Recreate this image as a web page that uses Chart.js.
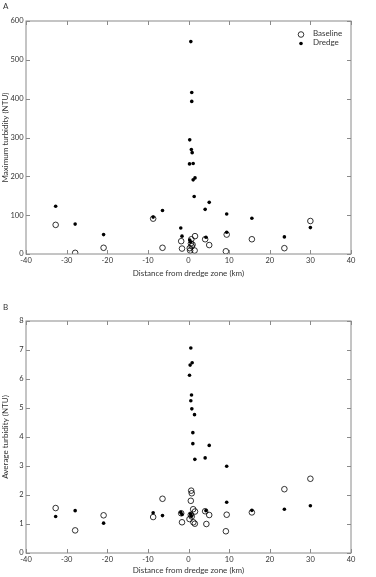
<!DOCTYPE html>
<html>
<head>
<meta charset="utf-8">
<script src="https://cdn.jsdelivr.net/npm/chart.js@4.4.1/dist/chart.umd.min.js"></script>
<style>
  body { margin: 0; background: #fff; }
  #wrap { position: relative; width: 376px; height: 577px; }
  #c1 { position: absolute; left: 0; top: 0; }
  #c2 { position: absolute; left: 0; top: 285px; }
</style>
</head>
<body>
<div id="wrap">
  <div id="c1" style="width:376px;height:285px"><canvas id="chartA"></canvas></div>
  <div id="c2" style="width:376px;height:292px"><canvas id="chartB"></canvas></div>
</div>
<script>
// panel A - maximum turbidity
var maxBaseX = [-32.7, -27.9, -20.9, -8.7, -6.4, -1.8, -1.6, 0.7, 1.6, 0.6, 0.8, 0.4, 1.5, 0.3, 1.0, 4.1, 5.1, 9.4, 9.2, 15.6, 23.6, 30];
var maxBaseY = [75, 3, 16, 91, 16, 33, 14, 38, 46, 27, 20, 9, 9, 15, 24, 38, 23, 50, 7, 38, 15, 85];
var maxDredgeX = [-32.7, -27.9, -20.9, -8.7, -6.4, -1.9, -1.6, 0.3, 0.5, 0.57, 0.8, 0.8, 0.3, 0.7, 0.9, 0.25, 1.15, 1.15, 1.6, 1.4, 4.1, 5.1, 4.3, 9.4, 9.4, 15.6, 23.6, 30];
var maxDredgeY = [123, 77, 50, 95, 112, 67, 46, 36, 31, 547, 416, 393, 294, 269, 261, 232, 233, 191, 196, 148, 115, 133, 43, 103, 56, 92, 44, 68];

// panel B - average turbidity
var avgBaseX = [-32.7, -27.9, -20.9, -8.7, -6.4, -1.8, -1.6, 0.66, 0.8, 0.57, 1.15, 1.6, 0.57, 0.25, 0.8, 1.2, 1.56, 4.1, 4.4, 5.1, 9.4, 9.2, 15.6, 23.6, 30];
var avgBaseY = [1.55, 0.78, 1.30, 1.24, 1.87, 1.37, 1.06, 2.15, 2.06, 1.80, 1.51, 1.43, 1.32, 1.17, 1.26, 1.06, 1.01, 1.44, 1.00, 1.31, 1.32, 0.75, 1.40, 2.20, 2.56];
var avgDredgeX = [-32.7, -27.9, -20.9, -8.7, -6.4, -1.9, -1.6, 0.57, 0.9, 0.4, 0.25, 0.74, 0.57, 0.82, 1.48, 1.07, 1.07, 1.56, 4.1, 5.1, 9.4, 9.4, 4.3, 15.6, 23.6, 30, 0.5, 0.7];
var avgDredgeY = [1.26, 1.46, 1.03, 1.39, 1.29, 1.40, 1.33, 7.07, 6.56, 6.48, 6.13, 5.45, 5.25, 4.97, 4.77, 4.15, 3.77, 3.23, 3.28, 3.71, 2.99, 1.75, 1.46, 1.47, 1.51, 1.63, 1.35, 1.28];

var xTicks = [-40, -30, -20, -10, 0, 10, 20, 30, 40];
var maxTicks = [0, 100, 200, 300, 400, 500, 600];
var avgTicks = [0, 1, 2, 3, 4, 5, 6, 7, 8];

var fontName = "Lato, 'DejaVu Sans', sans-serif";
var textCol = '#333';
var frameCol = '#8a8a8a';

function toPoints(xs, ys) {
    var pts = [];
    for (var i = 0; i < xs.length; i++) {
        pts.push({x: xs[i], y: ys[i]});
    }
    return pts;
}

// box round the plot with small inward ticks, panel letter and legend
function framePlugin(letter, letterY, showLegend) {
    return {
        id: 'frame' + letter,
        afterDraw: function(chart) {
            var c = chart.ctx;
            var a = chart.chartArea;
            var xs = chart.scales.x, ys = chart.scales.y;
            c.save();
            c.strokeStyle = frameCol;
            c.lineWidth = 1;
            c.strokeRect(a.left, a.top, a.right - a.left, a.bottom - a.top);
            c.beginPath();
            xs.ticks.forEach(function(t) {
                var px = Math.round(xs.getPixelForValue(t.value)) + 0.5;
                c.moveTo(px, a.bottom); c.lineTo(px, a.bottom - 4);
                c.moveTo(px, a.top); c.lineTo(px, a.top + 4);
            });
            ys.ticks.forEach(function(t) {
                var py = Math.round(ys.getPixelForValue(t.value)) + 0.5;
                c.moveTo(a.left, py); c.lineTo(a.left + 4, py);
                c.moveTo(a.right, py); c.lineTo(a.right - 4, py);
            });
            c.stroke();

            c.fillStyle = textCol;
            c.font = "8px " + fontName;
            c.textBaseline = 'middle';
            c.textAlign = 'left';
            c.fillText(letter, 3, letterY);

            if (showLegend) {
                var lx = a.right - 50, ly = a.top + 13.5;
                c.strokeStyle = '#000';
                c.lineWidth = 0.8;
                c.beginPath();
                c.arc(lx, ly, 2.8, 0, Math.PI * 2);
                c.stroke();
                c.fillStyle = '#000';
                c.beginPath();
                c.arc(lx, ly + 9, 1.8, 0, Math.PI * 2);
                c.fill();
                c.fillStyle = textCol;
                c.fillText('Baseline', lx + 12, ly - 1);
                c.fillText('Dredge', lx + 12, ly + 8);
            }
            c.restore();
        }
    };
}

function makeChart(id, baseX, baseY, dredgeX, dredgeY, yMax, yTicks, yTitle, padTop, xHeight, titlePad, letter, letterY, legend) {
    var ctx = document.getElementById(id);
    return new Chart(ctx, {
        type: 'scatter',
        data: {
            datasets: [{
                label: 'Dredge',
                data: toPoints(dredgeX, dredgeY),
                pointRadius: 1.8,
                pointBackgroundColor: '#000',
                pointBorderWidth: 0
            }, {
                label: 'Baseline',
                data: toPoints(baseX, baseY),
                pointRadius: 2.8,
                pointBackgroundColor: 'rgba(255,255,255,0)',
                pointBorderColor: '#000',
                pointBorderWidth: 0.8
            }]
        },
        options: {
            responsive: true,
            maintainAspectRatio: false,
            animation: false,
            layout: { padding: { top: padTop, right: 25, left: 0, bottom: 0 } },
            plugins: { legend: { display: false }, tooltip: { enabled: false } },
            scales: {
                x: {
                    type: 'linear', min: -40, max: 40,
                    afterBuildTicks: function(s) { s.ticks = xTicks.map(function(v) { return {value: v}; }); },
                    afterFit: function(s) { s.height = xHeight; },
                    grid: { display: false, drawTicks: false },
                    border: { display: false },
                    ticks: { color: textCol, font: { family: fontName, size: 7.5 }, padding: 2, maxRotation: 0 },
                    title: { display: true, text: 'Distance from dredge zone (km)', color: textCol,
                             font: { family: fontName, size: 8 }, padding: { top: 0, bottom: titlePad } }
                },
                y: {
                    type: 'linear', min: 0, max: yMax,
                    afterBuildTicks: function(s) { s.ticks = yTicks.map(function(v) { return {value: v}; }); },
                    afterFit: function(s) { s.width = 26; },
                    grid: { display: false, drawTicks: false },
                    border: { display: false },
                    ticks: { color: textCol, font: { family: fontName, size: 7.5 }, padding: 2.5 },
                    title: { display: true, text: yTitle, color: textCol,
                             font: { family: fontName, size: 8 }, padding: { top: 1, bottom: 0 } }
                }
            }
        },
        plugins: [framePlugin(letter, letterY, legend)]
    });
}

makeChart('chartA', maxBaseX, maxBaseY, maxDredgeX, maxDredgeY, 600, maxTicks,
    'Maximum turbidity (NTU)', 21, 31, 7, 'A', 6, true);
makeChart('chartB', avgBaseX, avgBaseY, avgDredgeX, avgDredgeY, 8, avgTicks,
    'Average turbidity (NTU)', 36, 24, 1.5, 'B', 22, false);
</script>
</body>
</html>
